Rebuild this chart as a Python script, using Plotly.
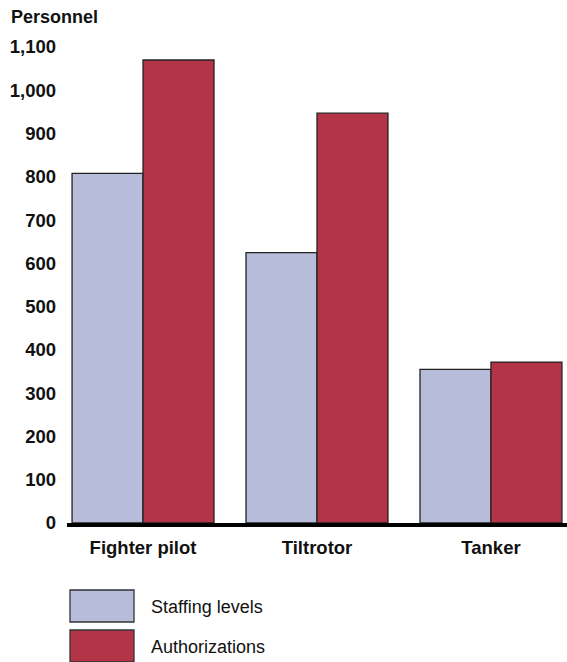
import plotly.graph_objects as go

# data
categories = ["Fighter pilot", "Tiltrotor", "Tanker"]
staffing = [808, 625, 355]
authorizations = [1070, 947, 372]
series_names = ["Staffing levels", "Authorizations"]
y_ticks = list(range(0, 1101, 100))

LAVENDER = "#b7bcdb"
CRIMSON = "#b33447"
FONT = "Liberation Sans, Arial, sans-serif"

W, H = 567, 662
L, R, T, B = 67, 0, 47, 139


def px(x, y):
  """pixel position in the screenshot -> paper coords"""
  pw = W - L - R
  ph = H - T - B
  return (x - L) / pw, (H - B - y) / ph


fig = go.Figure()
for name, vals, col in zip(series_names, [staffing, authorizations], [LAVENDER, CRIMSON]):
  fig.add_trace(go.Bar(
    x=categories, y=vals, name=name,
    marker=dict(color=col, line=dict(color="#222222", width=1.3)),
    showlegend=False,
  ))

# legend drawn by hand (big swatches)
shapes = []
annotations = []
for i, (name, col) in enumerate(zip(series_names, [LAVENDER, CRIMSON])):
  top = 590 + i * 40
  x0, y0 = px(70, top)
  x1, y1 = px(134, top + 32)
  shapes.append(dict(type="rect", xref="paper", yref="paper",
                     x0=x0, x1=x1, y0=y1, y1=y0,
                     fillcolor=col, line=dict(color="#333333", width=1.3)))
  tx, ty = px(149, top + 17)
  annotations.append(dict(text=name, xref="paper", yref="paper", x=tx, y=ty,
                          xanchor="left", yanchor="middle", showarrow=False,
                          font=dict(family=FONT, size=18, color="#111111")))

ax, ay = px(9, 17)
annotations.append(dict(text="<b>Personnel</b>", xref="paper", yref="paper", x=ax, y=ay,
                        xanchor="left", yanchor="middle", showarrow=False,
                        font=dict(family=FONT, size=18, color="#111111")))

fig.update_layout(
  width=W, height=H,
  margin=dict(l=L, r=R, t=T, b=B),
  paper_bgcolor="white", plot_bgcolor="white",
  barmode="group", bargap=0.184, bargroupgap=0,
  font=dict(family=FONT, color="#111111"),
  shapes=shapes, annotations=annotations,
)
fig.update_xaxes(
  range=[-0.437, 2.437], showgrid=False, zeroline=False,
  showline=True, linecolor="black", linewidth=4,
  ticks="", ticklabelstandoff=5,
  tickfont=dict(family=FONT, size=18.5, color="#111111", weight="bold"),
)
fig.update_yaxes(
  range=[0, 1100], tickvals=y_ticks, tickformat=",",
  showgrid=False, zeroline=False, showline=False,
  ticks="", ticklabelstandoff=10,
  tickfont=dict(family=FONT, size=18.5, color="#111111", weight="bold"),
)

# drop the browser's default body margin so the figure fills the window exactly
fig.write_html("out.html", config={"displayModeBar": False},
               post_script="document.body.style.margin='0';document.body.style.overflow='hidden';")
